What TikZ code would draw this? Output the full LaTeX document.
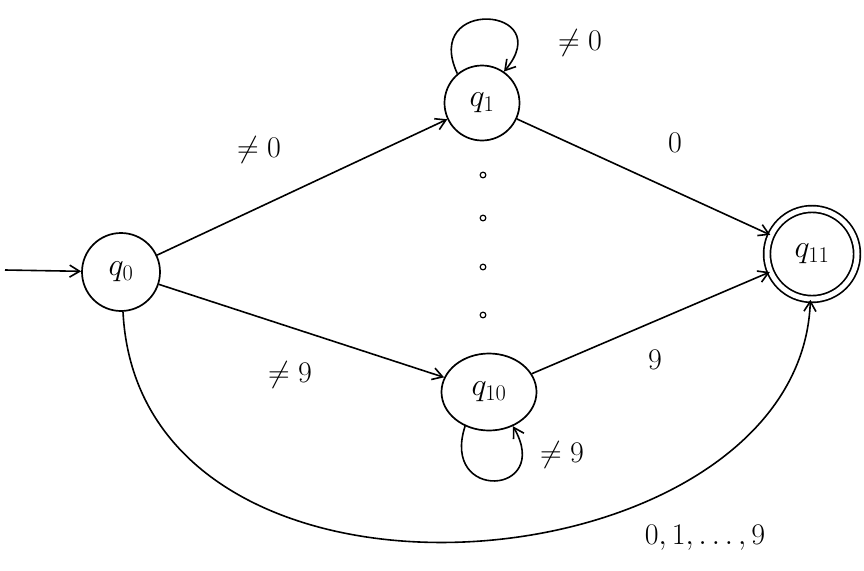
\documentclass[tikz,border=0pt]{standalone}
\usepackage{fix-cm}
\usetikzlibrary{arrows.meta,shapes.geometric}
\begin{document}
\begin{tikzpicture}[x=1pt,y=-1pt,
  state/.style={draw, circle, line width=1.7pt, inner sep=0pt, font=\fontsize{32}{36}\selectfont},
  accstate/.style={state, double, double distance=5pt},
  conn/.style={line width=1.6pt, -{Straight Barb[length=10pt,width=12pt]}},
  lbl/.style={font=\fontsize{30}{34}\selectfont},
  dotmark/.style={circle, draw, line width=1.2pt, inner sep=2pt}]
\useasboundingbox (0,0) rectangle (864,570);
\node[state, minimum size=78pt] (q0) at (121,272) {$q_0$};
\node[state, minimum size=75pt] (q1) at (482,103) {$q_1$};
\node[state, ellipse, minimum width=95pt, minimum height=77pt] (q10) at (489,392) {$q_{10}$};
\node[accstate, minimum size=90pt] (q11) at (812,254) {$q_{11}$};
\coordinate (start) at (5,270);
\node[dotmark] (d1) at (483,175) {};
\node[dotmark] (d2) at (483,218) {};
\node[dotmark] (d3) at (483,267) {};
\node[dotmark] (d4) at (483,315) {};
\node[lbl] (l01) at (259,150) {$\neq 0$};
\node[lbl] (l111) at (675,143) {$0$};
\node[lbl] (l010) at (290,375) {$\neq 9$};
\node[lbl] (l1011) at (655,360) {$9$};
\node[lbl] (l011) at (705,538) {$0,1,\ldots,9$};
\node[lbl] (l11) at (580,43) {$\neq 0$};
\node[lbl] (l1010) at (562,455) {$\neq 9$};
\draw[conn] (start) -- (q0);
\draw[conn] (q0) -- (q1);
\draw[conn] (q1) -- (q11);
\draw[conn] (q0) -- (q10);
\draw[conn] (q10) -- (q11);
\draw[conn] (q0) .. controls (140,650) and (800,590) .. (q11);
\draw[conn] (q1.130) .. controls +(-115:85) and +(-50:85) .. (q1.55);
\draw[conn] (q10.235) .. controls +(108:80) and +(60:80) .. (q10.-55);
\end{tikzpicture}
\end{document}
